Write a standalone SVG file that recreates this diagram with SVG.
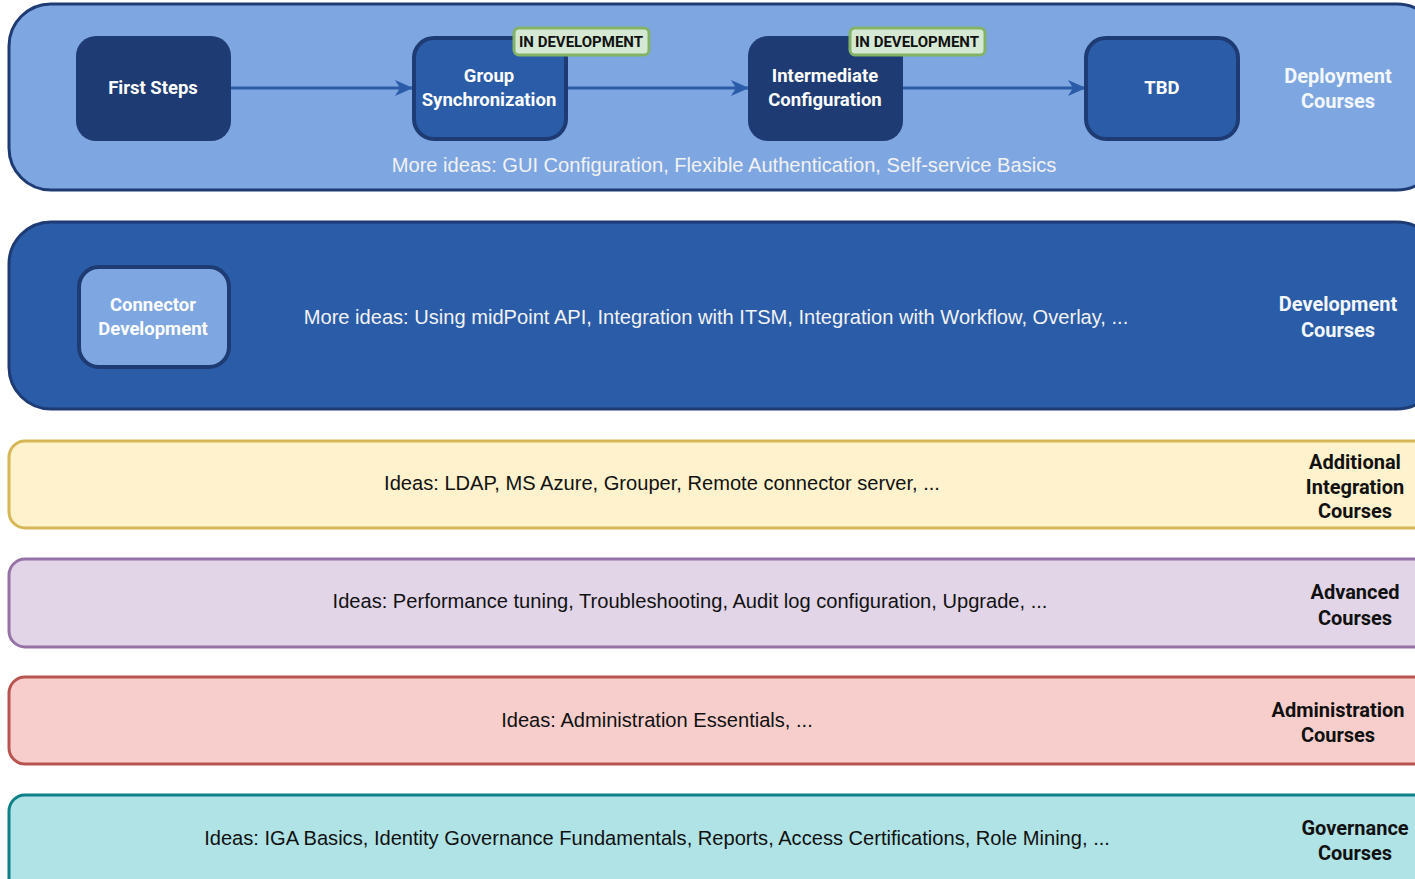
<svg xmlns="http://www.w3.org/2000/svg" width="1415" height="879" viewBox="0 0 1415 879">
  <defs>
    <marker id="arrow" viewBox="0 0 18 16" refX="17" refY="8" markerWidth="18" markerHeight="16" markerUnits="userSpaceOnUse" orient="auto">
      <path d="M0,0 L18,8 L0,16 L5,8 Z" fill="#2a5ca8"/>
    </marker>
    <style>
      .band { stroke-width: 3; }
      .node-dark { fill: #1e3b73; }
      .node-mid { fill: #2a5ca8; stroke: #1e3b73; stroke-width: 4; }
      .node-light { fill: #7ea6e0; stroke: #1e3b73; stroke-width: 4; }
      .badge { fill: #d5e8d4; stroke: #82b366; stroke-width: 3; }
      .lbl { font-family: Roboto, "Liberation Sans", sans-serif; font-weight: bold; font-size: 18.5px; text-anchor: middle; fill: #ffffff; }
      .badge-t { font-family: Roboto, "Liberation Sans", sans-serif; font-weight: bold; font-size: 15px; text-anchor: middle; fill: #111111; }
      .side { font-family: Roboto, "Liberation Sans", sans-serif; font-weight: bold; font-size: 20px; text-anchor: middle; }
      .ideas { font-family: "Liberation Sans", Arial, sans-serif; font-size: 20.1px; text-anchor: middle; }
      .edge { fill: none; stroke: #2a5ca8; stroke-width: 3; marker-end: url(#arrow); }
    </style>
  </defs>

  <rect width="1415" height="879" fill="#ffffff"/>

  <!-- course bands -->
  <g id="band-deployment">
    <rect class="band" x="9" y="4" width="1430" height="186" rx="42" fill="#7ea6e0" stroke="#1e3b73"/>
    <text class="ideas" x="724" y="172" fill="#f2f2f2">More ideas: GUI Configuration, Flexible Authentication, Self-service Basics</text>
    <text class="side" x="1338" y="83" fill="#f4f7fc">Deployment</text>
    <text class="side" x="1338" y="108" fill="#f4f7fc">Courses</text>
  </g>
  <g id="band-development">
    <rect class="band" x="9" y="222" width="1430" height="187" rx="42" fill="#2a5ca8" stroke="#1e3b73"/>
    <text class="ideas" x="716" y="324" fill="#f2f2f2">More ideas: Using midPoint API, Integration with ITSM, Integration with Workflow, Overlay, ...</text>
    <text class="side" x="1338" y="311" fill="#f4f7fc">Development</text>
    <text class="side" x="1338" y="337" fill="#f4f7fc">Courses</text>
  </g>
  <g id="band-integration">
    <rect class="band" x="9" y="441" width="1430" height="87" rx="16" fill="#fff2cc" stroke="#d6b656"/>
    <text class="ideas" x="662" y="490" fill="#111111">Ideas: LDAP, MS Azure, Grouper, Remote connector server, ...</text>
    <text class="side" x="1355" y="469" fill="#111111">Additional</text>
    <text class="side" x="1355" y="494" fill="#111111">Integration</text>
    <text class="side" x="1355" y="518" fill="#111111">Courses</text>
  </g>
  <g id="band-advanced">
    <rect class="band" x="9" y="559" width="1430" height="88" rx="16" fill="#e1d5e7" stroke="#9673a6"/>
    <text class="ideas" x="690" y="608" fill="#111111">Ideas: Performance tuning, Troubleshooting, Audit log configuration, Upgrade, ...</text>
    <text class="side" x="1355" y="599" fill="#111111">Advanced</text>
    <text class="side" x="1355" y="625" fill="#111111">Courses</text>
  </g>
  <g id="band-administration">
    <rect class="band" x="9" y="677" width="1430" height="87" rx="16" fill="#f8cecc" stroke="#b85450"/>
    <text class="ideas" x="657" y="727" fill="#111111">Ideas: Administration Essentials, ...</text>
    <text class="side" x="1338" y="717" fill="#111111">Administration</text>
    <text class="side" x="1338" y="742" fill="#111111">Courses</text>
  </g>
  <g id="band-governance">
    <rect class="band" x="9" y="795" width="1430" height="110" rx="16" fill="#b0e3e6" stroke="#0e8088"/>
    <text class="ideas" x="657" y="845" fill="#111111">Ideas: IGA Basics, Identity Governance Fundamentals, Reports, Access Certifications, Role Mining, ...</text>
    <text class="side" x="1355" y="835" fill="#111111">Governance</text>
    <text class="side" x="1355" y="860" fill="#111111">Courses</text>
  </g>

  <!-- connectors -->
  <g id="connectors">
    <line class="edge" x1="231" y1="88" x2="412" y2="88"/>
    <line class="edge" x1="567" y1="88" x2="748" y2="88"/>
    <line class="edge" x1="903" y1="88" x2="1085" y2="88"/>
  </g>

  <!-- course nodes -->
  <g id="node-first-steps">
    <rect class="node-dark" x="76" y="36" width="155" height="105" rx="20"/>
    <text class="lbl" x="153" y="94">First Steps</text>
  </g>
  <g id="node-group-sync">
    <rect class="node-mid" x="414" y="38" width="152" height="101" rx="20"/>
    <text class="lbl" x="489" y="82">Group</text>
    <text class="lbl" x="489" y="106">Synchronization</text>
  </g>
  <g id="badge-group-sync">
    <rect class="badge" x="514" y="28" width="135" height="27" rx="5"/>
    <text class="badge-t" x="581" y="47">IN DEVELOPMENT</text>
  </g>
  <g id="node-intermediate">
    <rect class="node-dark" x="748" y="36" width="155" height="105" rx="20"/>
    <text class="lbl" x="825" y="82">Intermediate</text>
    <text class="lbl" x="825" y="106">Configuration</text>
  </g>
  <g id="badge-intermediate">
    <rect class="badge" x="850" y="28" width="135" height="27" rx="5"/>
    <text class="badge-t" x="917" y="47">IN DEVELOPMENT</text>
  </g>
  <g id="node-tbd">
    <rect class="node-mid" x="1086" y="38" width="152" height="101" rx="20"/>
    <text class="lbl" x="1162" y="94">TBD</text>
  </g>
  <g id="node-connector-dev">
    <rect class="node-light" x="79" y="267" width="150" height="100" rx="20"/>
    <text class="lbl" x="153" y="311">Connector</text>
    <text class="lbl" x="153" y="335">Development</text>
  </g>
</svg>
